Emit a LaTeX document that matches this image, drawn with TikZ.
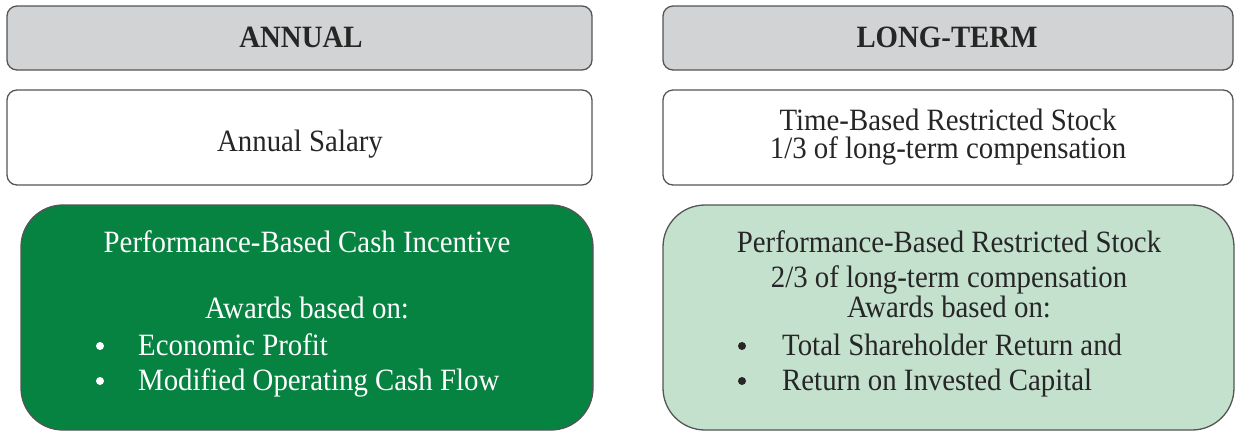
\documentclass[tikz,border=0pt]{standalone}
\usepackage{fontspec}
\setmainfont{Liberation Serif}[FakeStretch=0.93]
\definecolor{hdrgray}{HTML}{D1D3D4}
\definecolor{edgegray}{HTML}{555555}
\definecolor{darkgrn}{HTML}{068241}
\definecolor{lightgrn}{HTML}{C4E1CD}
\tikzset{
  box/.style={draw=edgegray, line width=1.3pt, rounded corners=10pt, inner sep=0pt},
  bigbox/.style={draw=edgegray, line width=1.3pt, rounded corners=42pt, inner sep=0pt},
  txt/.style={anchor=base, inner sep=0pt, font=\fontsize{31}{31}\selectfont},
  hdr/.style={txt, font=\fontsize{31}{31}\selectfont\bfseries, text=black!85},
  bul/.style={circle, inner sep=0pt, minimum size=8pt},
}
\begin{document}
\begin{tikzpicture}[x=1pt, y=-1pt]
\useasboundingbox (0,0) rectangle (1235,432);
% boxes
\node[box, fill=hdrgray, minimum width=585pt, minimum height=64pt] (hL) at (299.5,38) {};
\node[box, fill=hdrgray, minimum width=570pt, minimum height=64pt] (hR) at (948,38) {};
\node[box, fill=white, minimum width=585pt, minimum height=95pt] (sL) at (299.5,137.5) {};
\node[box, fill=white, minimum width=570pt, minimum height=95pt] (sR) at (948,137.5) {};
\node[bigbox, fill=darkgrn, minimum width=572pt, minimum height=225pt] (gL) at (307,317.5) {};
\node[bigbox, fill=lightgrn, minimum width=571pt, minimum height=225pt] (gR) at (948.5,317.5) {};
% header texts
\node[hdr] (tA) at (301,47) {ANNUAL};
\node[hdr] (tB) at (947,47) {LONG-TERM};
% second row
\node[txt, text=black!85] (tC) at (300,151) {Annual Salary};
\node[txt, text=black!85] (tD1) at (948,130) {Time-Based Restricted Stock};
\node[txt, text=black!85] (tD2) at (948,158) {1/3 of long-term compensation};
% left green
\node[txt, text=white] (tE1) at (307,252) {Performance-Based Cash Incentive};
\node[txt, text=white] (tE2) at (307,318) {Awards based on:};
\node[bul, fill=white] (bE1) at (100,346) {};
\node[bul, fill=white] (bE2) at (100,381) {};
\node[txt, text=white, anchor=base west] (tE3) at (138,355) {Economic Profit};
\node[txt, text=white, anchor=base west] (tE4) at (138,390) {Modified Operating Cash Flow};
% right green
\node[txt, text=black!85] (tF1) at (949,252) {Performance-Based Restricted Stock};
\node[txt, text=black!85] (tF2) at (949,287) {2/3 of long-term compensation};
\node[txt, text=black!85] (tF3) at (949,317) {Awards based on:};
\node[bul, fill=black!85] (bF1) at (742,346) {};
\node[bul, fill=black!85] (bF2) at (742,381) {};
\node[txt, text=black!85, anchor=base west] (tF4) at (782,355) {Total Shareholder Return and};
\node[txt, text=black!85, anchor=base west] (tF5) at (782,390) {Return on Invested Capital};
\end{tikzpicture}
\end{document}
